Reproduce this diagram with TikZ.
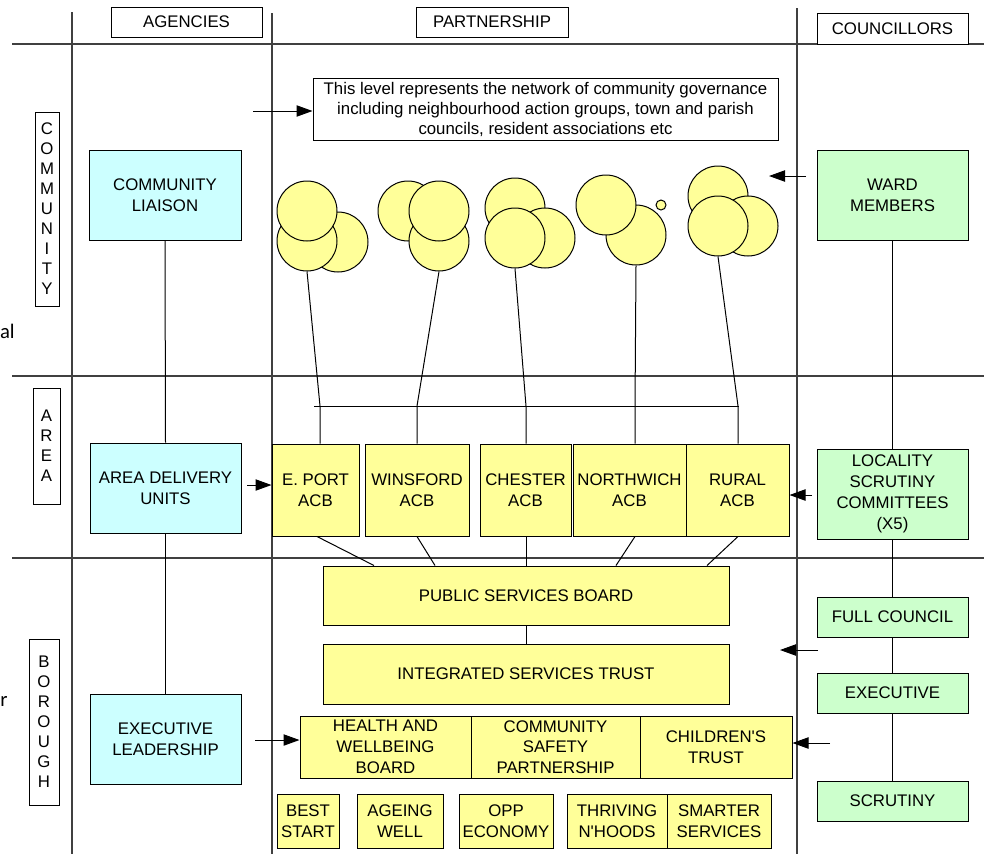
\documentclass[tikz,border=0pt]{standalone}
\usepackage{fontspec}
\setmainfont{Liberation Sans}
\newfontfamily\calib{Carlito}
\usetikzlibrary{arrows.meta}
\definecolor{cyanbox}{HTML}{CCFFFF}
\definecolor{greenbox}{HTML}{CCFFCC}
\definecolor{yellowbox}{HTML}{FFFF99}
\begin{document}
\begin{tikzpicture}[x=0.75pt,y=-0.75pt,
  every node/.style={font=\fontsize{12.6}{15.6}\selectfont, align=center, inner sep=0pt},
  sz/.style 2 args={minimum width=#1*0.75pt, minimum height=#2*0.75pt},
  grid/.style={line width=0.8pt, draw=black!75},
  bx/.style={draw=black, line width=0.75pt, rectangle},
  hdr/.style={bx, fill=white},
  vlab/.style={bx, fill=white, font=\fontsize{12.6}{15}\selectfont},
  agency/.style={bx, fill=cyanbox},
  cllr/.style={bx, fill=greenbox},
  part/.style={bx, fill=yellowbox},
  link/.style={draw=black, line width=0.75pt},
  arr/.style={link, -{Triangle[length=12pt,width=8.5pt]}},
  blob/.style={circle, draw=black, line width=0.75pt, fill=yellowbox, minimum size=45pt},
]
\useasboundingbox (0,0) rectangle (984,854);

% grid
\draw[grid] (12,44) -- (984,44);
\draw[grid] (12,376) -- (984,376);
\draw[grid] (12,558) -- (984,558);
\draw[grid] (72,12) -- (72,854);
\draw[grid] (272,13) -- (272,854);
\draw[grid] (797,8) -- (797,854);

% fragments of cut text at the left edge
\node[anchor=base east, font=\calib\fontsize{15.5}{18}\selectfont] (frag1) at (15,338) {al};
\node[anchor=base west, font=\calib\fontsize{15.5}{18}\selectfont] (frag2) at (0,706) {r};

% headers
\node[hdr, sz={151}{30}] (hagencies) at (186.5,22) {AGENCIES};
\node[hdr, sz={152}{30}] (hpartner) at (492,22) {PARTNERSHIP};
\node[hdr, sz={151}{31}] (hcouncil) at (892.5,28.5) {COUNCILLORS};

% level labels
\node[vlab, sz={24}{194}] (lcomm) at (47,209) {C\\O\\M\\M\\U\\N\\I\\T\\Y};
\node[vlab, sz={27}{116}] (larea) at (46.5,446) {A\\R\\E\\A};
\node[vlab, sz={30}{166}] (lboro) at (44,722) {B\\O\\R\\O\\U\\G\\H};

% agencies
\node[agency, sz={152}{90}] (liaison) at (165,195) {COMMUNITY\\LIAISON};
\node[agency, sz={151}{90}] (adu) at (165.5,488) {AREA DELIVERY\\UNITS};
\node[agency, sz={151}{90}] (execlead) at (165.5,739) {EXECUTIVE\\LEADERSHIP};
\draw[link] (liaison.south) -- (adu.north);
\draw[link] (adu.south) -- (execlead.north);

% councillors
\node[cllr, sz={151}{90}] (ward) at (892.5,195) {WARD\\MEMBERS};
\node[cllr, sz={151}{90}] (locality) at (892.5,494) {LOCALITY\\SCRUTINY\\COMMITTEES\\(X5)};
\node[cllr, sz={151}{40}] (fullc) at (892.5,617) {FULL COUNCIL};
\node[cllr, sz={151}{40}] (execc) at (892.5,693) {EXECUTIVE};
\node[cllr, sz={151}{40}] (scrut) at (892.5,801) {SCRUTINY};
\draw[link] (ward.south) -- (locality.north);
\draw[link] (locality.south) -- (fullc.north);
\draw[link] (fullc.south) -- (execc.north);
\draw[link] (execc.south) -- (scrut.north);

% top note
\node[hdr, sz={465}{62}, font=\fontsize{12.6}{15}\selectfont] (note) at (545.5,109) {This level represents the network of community governance\\including neighbourhood action groups, town and parish\\councils, resident associations etc};

% circle groups
\node[blob] (c1c) at (338,242) {};
\node[blob] (c1b) at (307,241) {};
\node[blob] (c1a) at (307,211) {};
\node[blob] (c2a) at (408,211) {};
\node[blob] (c2c) at (439,241) {};
\node[blob] (c2b) at (439,211) {};
\node[blob] (c3a) at (515,208) {};
\node[blob] (c3c) at (545,238) {};
\node[blob] (c3b) at (515,238) {};
\node[blob] (c4b) at (636,235) {};
\node[blob] (c4a) at (606,205) {};
\node[circle, draw=black, line width=0.75pt, fill=yellowbox, minimum size=7.5pt] (c4s) at (661,205) {};
\node[blob] (c5a) at (718,196) {};
\node[blob] (c5c) at (748,226) {};
\node[blob] (c5b) at (718,226) {};

% ACBs
\node[part, sz={87}{92}] (eport) at (315.5,490) {E. PORT\\ACB};
\node[part, sz={104}{92}] (winsford) at (417,490) {WINSFORD\\ACB};
\node[part, sz={91}{92}] (chester) at (525.5,490) {CHESTER\\ACB};
\node[part, sz={113}{92}] (northwich) at (629.5,490) {NORTHWICH\\ACB};
\node[part, sz={103}{92}] (rural) at (737.5,490) {RURAL\\ACB};

% bar and links from circles
\draw[link] (314,406) -- (739,406);
\coordinate (j1) at (320,406);
\coordinate (j2) at (417,406);
\coordinate (j3) at (526,406);
\coordinate (j4) at (635,406);
\coordinate (j5) at (738,406);
\draw[link] (c1b.south) -- (j1) -- (j1 |- eport.north);
\draw[link] (c2c.south) -- (j2) -- (j2 |- winsford.north);
\draw[link] (c3b.south) -- (j3) -- (j3 |- chester.north);
\draw[link] (c4b.south) -- (j4) -- (j4 |- northwich.north);
\draw[link] (c5b.south) -- (j5) -- (j5 |- rural.north);

% borough partnership
\node[part, sz={406}{59}] (psb) at (526,595.5) {PUBLIC SERVICES BOARD};
\node[part, sz={406}{60}] (ist) at (526,674) {INTEGRATED SERVICES TRUST};
\draw[link] (psb.south) -- (ist.north);

\draw[link] (317,0 |- eport.south) -- (374,0 |- psb.north);
\draw[link] (417,0 |- winsford.south) -- (435,0 |- psb.north);
\draw[link] (526,0 |- chester.south) -- (526,0 |- psb.north);
\draw[link] (635,0 |- northwich.south) -- (616,0 |- psb.north);
\draw[link] (738,0 |- rural.south) -- (707,0 |- psb.north);

\node[part, sz={171}{62}] (hwb) at (385.5,747) {HEALTH AND\\WELLBEING\\BOARD};
\node[part, sz={169}{62}] (csp) at (555.5,747) {COMMUNITY\\SAFETY\\PARTNERSHIP};
\node[part, sz={152}{62}] (ct) at (716,747) {CHILDREN\textquotesingle S\\TRUST};

\node[part, sz={62}{54}] (best) at (308,821) {BEST\\START};
\node[part, sz={86}{54}] (ageing) at (400,821) {AGEING\\WELL};
\node[part, sz={94}{54}] (opp) at (506,821) {OPP\\ECONOMY};
\node[part, sz={100}{54}] (thriving) at (617,821) {THRIVING\\N\textquotesingle HOODS};
\node[part, sz={104}{54}] (smarter) at (719,821) {SMARTER\\SERVICES};

% arrows
\coordinate (a1) at (253,111);
\draw[arr] (a1) -- (a1 -| note.west);
\coordinate (a2s) at (806,176);
\coordinate (a2e) at (769,176);
\draw[arr] (a2s) -- (a2e);
\coordinate (a3) at (812,495);
\draw[arr] (a3) -- (a3 -| rural.east);
\coordinate (a4) at (247,485);
\draw[arr] (a4) -- (a4 -| eport.west);
\coordinate (a5) at (255,740);
\draw[arr] (a5) -- (a5 -| hwb.west);
\coordinate (a6s) at (818,650);
\coordinate (a6e) at (780,650);
\draw[arr] (a6s) -- (a6e);
\coordinate (a7) at (830,743);
\draw[arr] (a7) -- (a7 -| ct.east);
\end{tikzpicture}
\end{document}
